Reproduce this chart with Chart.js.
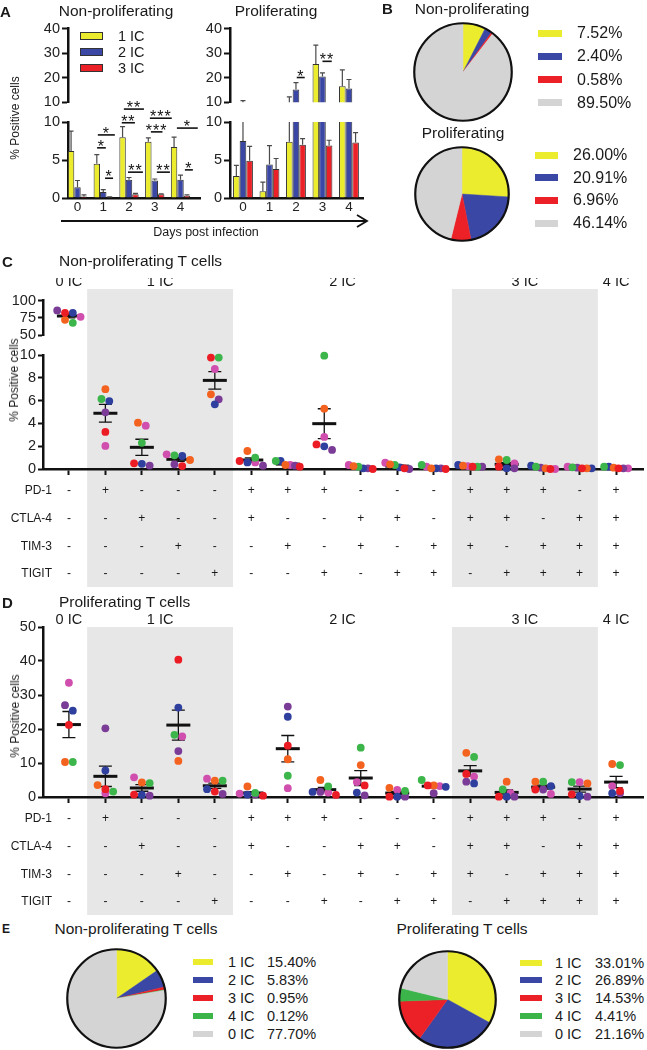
<!DOCTYPE html>
<html lang="en">
<head>
  <meta charset="UTF-8" />
  <title>Checkpoint co-expression on T cells</title>
  <script src="https://cdn.jsdelivr.net/npm/chart.js@4.4.1/dist/chart.umd.min.js"></script>
  <style>
    body { margin: 0; background: #fff; }
    #page { position: relative; width: 647px; height: 1050px; overflow: hidden;
            font-family: "Liberation Sans", Arial, sans-serif; color: #1a1a1a; }
    #page canvas, .txt, .sw, svg { position: absolute; }
    .txt { white-space: pre; line-height: 1; }
    .sw { box-sizing: border-box; }
  </style>
</head>
<body>
<div id="page"></div>

<script>
  // ---------- A: % positive cells by day ----------
  const days = [0, 1, 2, 3, 4];
  const dayLabels = ['0', '1', '2', '3', '4'];
  const icLabels = ['1 IC', '2 IC', '3 IC'];
  const nonProlif1 = [6.2, 4.5, 8.0, 7.4, 6.7];
  const nonProlif2 = [1.4, 0.8, 2.4, 2.3, 2.4];
  const nonProlif3 = [0.2, 0.1, 0.5, 0.5, 0.3];
  const nonProlif1Err = [2.6, 1.2, 1.4, 0.5, 1.3];
  const nonProlif2Err = [0.9, 0.3, 0.3, 0.2, 0.6];
  const nonProlif3Err = [0.2, 0.05, 0.1, 0.05, 0.1];
  const prolif1 = [2.9, 0.9, 7.4, 25.6, 16.5];
  const prolif2 = [7.5, 4.4, 15.2, 20.5, 15.6];
  const prolif3 = [4.9, 3.8, 7.0, 6.9, 7.3];
  const prolif1Err = [1.4, 1.2, 4.8, 7.7, 6.7];
  const prolif2Err = [3.2, 2.5, 2.8, 1.5, 3.7];
  const prolif3Err = [1.9, 1.4, 0.8, 0.7, 1.3];
  const lowTicksA = [0, 5, 10];
  const highTicksA = [10, 20, 30, 40];
  // significance bars: [from day, to day, height %, stars]
  const nonProlifSig = [
    [0.76, 1.10, 6.6, '*'], [0.79, 1.45, 8.3, '*'], [1.07, 1.38, 2.6, '*'],
    [1.72, 2.23, 9.9, '**'], [1.80, 2.58, 11.7, '**'], [1.96, 2.54, 3.4, '**'],
    [2.81, 3.66, 10.5, '***'], [2.85, 3.30, 8.7, '***'], [3.08, 3.59, 3.4, '**'],
    [3.86, 4.67, 9.2, '*'], [4.17, 4.48, 3.7, '*']
  ];
  const prolifSig = [[2.03, 2.33, 20.1, '*'], [3.0, 3.35, 26.7, '**']];

  // ---------- B / E: pie shares ----------
  const nonProlifShare = [7.52, 2.40, 0.58, 89.50];
  const prolifShare = [26.00, 20.91, 6.96, 46.14];
  const icNames = ['1 IC', '2 IC', '3 IC', '4 IC', '0 IC'];
  const nonProlifTShare = [15.40, 5.83, 0.95, 0.12, 77.70];
  const prolifTShare = [33.01, 26.89, 14.53, 4.41, 21.16];

  // ---------- C / D: co-expression per donor ----------
  const groupLabels = ['0 IC', '1 IC', '2 IC', '3 IC', '4 IC'];
  const groupStart = [0, 1, 5, 11, 15];
  const groupEnd = [0, 4, 10, 14, 15];
  const markerNames = ['PD-1', 'CTLA-4', 'TIM-3', 'TIGIT'];
  const markerSigns = ['-+---+++---+++-+', '--+--+--++-++-++', '---+--+-+-++-+++', '----+--+-++-++++'];
  const highTicksC = [50, 75, 100];
  const lowTicksC = [0, 2, 4, 6, 8, 10];
  const ticksD = [0, 10, 20, 30, 40, 50];

  const cRed     = [82.5, 3.25, 0.5, 0.26, 9.77, 0.7, 0.2, 2.16, 0.0, 0.06, 0.0, 0.2, 0.2, 0.0, 0.06, 0.06];
  const cOrange  = [72.4, 7.0, 4.06, 0.79, 6.55, 1.58, 0.35, 5.29, 0.26, 0.41, 0.06, 0.29, 0.85, 0.06, 0.06, 0.12];
  const cGreen   = [68.0, 6.14, 2.3, 1.2, 9.77, 0.99, 0.7, 9.94, 0.2, 0.35, 0.35, 0.2, 0.79, 0.2, 0.15, 0.2];
  const cBlue    = [82.5, 5.96, 0.45, 1.14, 5.67, 0.58, 0.7, 1.99, 0.06, 0.15, 0.06, 0.35, 0.06, 0.29, 0.06, 0.2];
  const cPurple  = [85.9, 4.97, 0.3, 0.41, 6.11, 0.29, 0.29, 1.67, 0.06, 0.0, 0.06, 0.2, 0.06, 0.12, 0.12, 0.06];
  const cMagenta = [76.7, 2.02, 3.8, 1.29, 8.77, 0.58, 0.35, 2.81, 0.35, 0.55, 0.2, 0.26, 0.5, 0.0, 0.2, 0.06];

  const dRed     = [21.2, 2.3, 0.7, 40.4, 1.6, 0.4, 15.1, 0.6, 3.4, 0.1, 3.4, 6.8, 0.1, 2.2, 0.8, 1.8];
  const dOrange  = [10.3, 3.5, 4.3, 10.6, 4.8, 3.1, 11.1, 5.0, 9.4, 2.7, 3.4, 13.0, 4.5, 4.5, 4.0, 9.7];
  const dGreen   = [10.3, 1.6, 4.1, 18.3, 4.8, 1.2, 6.25, 3.1, 14.5, 1.8, 5.0, 11.8, 2.2, 4.5, 4.4, 9.4];
  const dBlue    = [25.4, 7.8, 0.6, 26.3, 2.3, 0.7, 23.6, 1.5, 1.3, 0.1, 3.0, 4.0, 0.1, 3.2, 0.3, 1.1];
  const dPurple  = [27.0, 20.2, 0.4, 13.5, 0.9, 0.7, 26.6, 1.5, 0.5, 0.1, 1.1, 4.5, 0.1, 2.2, 0.1, 1.1];
  const dMagenta = [33.6, 1.1, 5.8, 17.8, 5.4, 1.0, 2.6, 1.3, 4.4, 2.1, 3.2, 6.0, 1.1, 0.9, 4.4, 3.2];

  // ---------- styling ----------
  const ink = '#111';
  const yellow = '#ebec2d', blue = '#3b47a5', red = '#ec2127', green = '#3bb54a', grey = '#d4d4d4';
  const barColors = [yellow, blue, red];
  const donorColors = ['#ec1c24', '#f4621f', '#3cb54a', '#2f3f9e', '#7b3c97', '#d04fae'];
  const family = '"Liberation Sans", Arial, sans-serif';
  Chart.defaults.font.family = family;
  Chart.defaults.color = '#222';

  const page = document.getElementById('page');

  function canvasAt(left, top, w, h) {
    const c = document.createElement('canvas');
    c.width = w; c.height = h;
    c.style.left = left + 'px'; c.style.top = top + 'px';
    c.style.width = w + 'px'; c.style.height = h + 'px';
    page.appendChild(c);
    return c;
  }

  function txt(str, x, y, size, o = {}) {
    const d = document.createElement('div');
    d.className = 'txt';
    d.textContent = str;
    d.style.left = x + 'px';
    d.style.top = y + 'px';
    d.style.fontSize = size + 'px';
    if (o.bold) d.style.fontWeight = 'bold';
    const dx = o.align === 'center' ? '-50%' : o.align === 'right' ? '-100%' : '0';
    d.style.transform = `translate(${dx}, -50%)` + (o.rotate ? ' rotate(-90deg)' : '');
    page.appendChild(d);
  }

  function swatch(x, y, w, h, color, outline) {
    const d = document.createElement('div');
    d.className = 'sw';
    d.style.left = x + 'px';
    d.style.top = (y - h / 2) + 'px';
    d.style.width = w + 'px';
    d.style.height = h + 'px';
    d.style.background = color;
    if (outline) d.style.border = '1px solid #333';
    page.appendChild(d);
  }

  // ---------- plugins ----------
  const errorBars = {
    id: 'errorBars',
    afterDatasetsDraw(chart) {
      const { ctx, chartArea: a, scales: { y } } = chart;
      ctx.save();
      ctx.beginPath();
      ctx.rect(a.left, a.top, a.right - a.left, a.bottom - a.top);
      ctx.clip();
      ctx.strokeStyle = '#4a4a4a';
      ctx.lineWidth = 1.2;
      chart.data.datasets.forEach((ds, di) => {
        chart.getDatasetMeta(di).data.forEach((bar, i) => {
          const v = ds.data[i].y;
          const y0 = y.getPixelForValue(v), y1 = y.getPixelForValue(v + ds.err[i]);
          ctx.beginPath();
          ctx.moveTo(bar.x, y0); ctx.lineTo(bar.x, y1);
          ctx.moveTo(bar.x - 2.5, y1); ctx.lineTo(bar.x + 2.5, y1);
          ctx.stroke();
        });
      });
      ctx.restore();
    }
  };

  const sigMarks = {
    id: 'sigMarks',
    afterDraw(chart, args, o) {
      const { ctx, scales: { x, y } } = chart;
      ctx.save();
      ctx.strokeStyle = ink; ctx.fillStyle = ink; ctx.lineWidth = 1.6;
      ctx.font = '16px ' + family;
      ctx.letterSpacing = '1px';
      ctx.textAlign = 'center'; ctx.textBaseline = 'alphabetic';
      (o.marks || []).forEach(([x0, x1, v, stars]) => {
        const py = y.getPixelForValue(v);
        const p0 = x.getPixelForValue(x0), p1 = x.getPixelForValue(x1);
        ctx.beginPath(); ctx.moveTo(p0, py); ctx.lineTo(p1, py); ctx.stroke();
        ctx.fillText(stars, (p0 + p1) / 2, py + 4);
      });
      ctx.restore();
    }
  };

  const pieRim = {
    id: 'pieRim',
    afterDatasetsDraw(chart) {
      const arc = chart.getDatasetMeta(0).data[0];
      const ctx = chart.ctx;
      ctx.save();
      ctx.beginPath();
      ctx.arc(arc.x, arc.y, arc.outerRadius, 0, Math.PI * 2);
      ctx.lineWidth = 2.2; ctx.strokeStyle = ink; ctx.stroke();
      ctx.restore();
    }
  };

  const meanSem = {
    id: 'meanSem',
    beforeDatasetsDraw(chart, args, o) {
      const { ctx, chartArea: a, scales: { x, y } } = chart;
      ctx.save();
      ctx.beginPath();
      ctx.rect(a.left, a.top - 3, a.right - a.left, a.bottom - a.top + 6);
      ctx.clip();
      ctx.strokeStyle = ink;
      o.means.forEach((m, i) => {
        const cx = x.getPixelForValue(i);
        const pm = y.getPixelForValue(m);
        const pHi = y.getPixelForValue(m + o.sems[i]), pLo = y.getPixelForValue(m - o.sems[i]);
        ctx.lineWidth = 1.3;
        ctx.beginPath();
        ctx.moveTo(cx, pLo); ctx.lineTo(cx, pHi);
        ctx.moveTo(cx - 6.5, pLo); ctx.lineTo(cx + 6.5, pLo);
        ctx.moveTo(cx - 6.5, pHi); ctx.lineTo(cx + 6.5, pHi);
        ctx.stroke();
        ctx.lineWidth = 3;
        ctx.beginPath(); ctx.moveTo(cx - 12, pm); ctx.lineTo(cx + 12, pm); ctx.stroke();
      });
      ctx.restore();
    }
  };

  // grey group bands, group headers and the +/- table under the dot plots
  const panelGrid = {
    id: 'panelGrid',
    beforeDraw(chart, args, o) {
      const { ctx, chartArea: a, scales: { x } } = chart;
      ctx.save();
      ctx.fillStyle = '#e7e7e7';
      groupStart.forEach((c0, g) => {
        if (g % 2 === 0) return;
        const l = x.getPixelForValue(c0 - 0.5), r = x.getPixelForValue(groupEnd[g] + 0.5);
        ctx.fillRect(l, a.top - o.shadeAbove, r - l, a.bottom - a.top + o.shadeAbove + 118);
      });
      ctx.restore();
    },
    afterDraw(chart, args, o) {
      const { ctx, chartArea: a, scales: { x } } = chart;
      ctx.save();
      ctx.fillStyle = '#1a1a1a';
      ctx.textBaseline = 'middle';
      ctx.textAlign = 'center';
      ctx.font = '14.5px ' + family;
      groupLabels.forEach((t, g) => {
        ctx.fillText(t, x.getPixelForValue((groupStart[g] + groupEnd[g]) / 2), a.top - o.labelAbove);
      });
      ctx.font = '12px ' + family;
      markerNames.forEach((name, r) => {
        const ry = a.bottom + 22 + r * 27.7;
        ctx.textAlign = 'right';
        ctx.fillText(name, 52, ry);
        ctx.textAlign = 'center';
        [...markerSigns[r]].forEach((s, c) => ctx.fillText(s, x.getPixelForValue(c), ry));
      });
      ctx.restore();
    }
  };

  const fixedTicks = list => s => { s.ticks = list.map(v => ({ value: v })); };
  const yAxisStyle = {
    border: { color: ink, width: 2.5 },
    grid: { drawOnChartArea: false, tickLength: 6, tickWidth: 2, tickColor: ink },
  };

  // ---------- A ----------
  function barChart(canvas, sets, errs, o) {
    return new Chart(canvas, {
      type: 'bar',
      data: {
        datasets: sets.map((vals, k) => ({
          label: icLabels[k],
          data: vals.map((v, i) => ({ x: days[i], y: v })),
          err: errs[k],
          backgroundColor: barColors[k],
          borderColor: '#333',
          borderWidth: 1,
          categoryPercentage: 0.75,
          barPercentage: 1
        }))
      },
      options: {
        responsive: false, animation: false, events: [],
        layout: { padding: o.pad },
        plugins: { legend: { display: false }, tooltip: { enabled: false }, sigMarks: { marks: o.marks || [] } },
        scales: {
          x: {
            type: 'linear', min: o.xMin, max: o.xMax, offset: false, display: o.showX,
            afterBuildTicks: fixedTicks(days),
            afterFit: s => { s.height = o.showX ? 24 : 0; },
            border: { color: ink, width: 2.5 },
            grid: { display: false, drawTicks: false },
            ticks: { callback: v => dayLabels[days.indexOf(v)], autoSkip: false, maxRotation: 0,
                     font: { size: 13.5 }, padding: 1 }
          },
          y: {
            ...yAxisStyle,
            min: o.yTicks[0], max: o.yTicks[o.yTicks.length - 1],
            afterBuildTicks: fixedTicks(o.yTicks),
            afterFit: s => { s.width = o.yWidth; },
            ticks: { font: { size: 14.5 }, padding: 2, autoSkip: false }
          }
        }
      },
      plugins: [errorBars, sigMarks]
    });
  }

  const npSets = [nonProlif1, nonProlif2, nonProlif3], npErr = [nonProlif1Err, nonProlif2Err, nonProlif3Err];
  const pSets = [prolif1, prolif2, prolif3], pErr = [prolif1Err, prolif2Err, prolif3Err];

  barChart(canvasAt(0, 18, 210, 95), npSets, npErr,
    { pad: { top: 10, bottom: 8, right: 10, left: 0 }, xMin: -0.369, xMax: 4.757, showX: false, yTicks: highTicksA, yWidth: 68 });
  barChart(canvasAt(0, 92, 210, 130), npSets, npErr,
    { pad: { top: 30, bottom: 0, right: 10, left: 0 }, xMin: -0.369, xMax: 4.757, showX: true, yTicks: lowTicksA, yWidth: 68, marks: nonProlifSig });
  barChart(canvasAt(190, 18, 183, 95), pSets, pErr,
    { pad: { top: 10, bottom: 8, right: 10, left: 0 }, xMin: -0.49, xMax: 4.53, showX: false, yTicks: highTicksA, yWidth: 40, marks: prolifSig });
  barChart(canvasAt(190, 92, 183, 130), pSets, pErr,
    { pad: { top: 30, bottom: 0, right: 10, left: 0 }, xMin: -0.49, xMax: 4.53, showX: true, yTicks: lowTicksA, yWidth: 40 });

  txt('A', 0, 11, 15, { bold: true });
  txt('Non-proliferating', 116, 11, 15.5, { align: 'center' });
  txt('Proliferating', 276, 11, 15.5, { align: 'center' });
  txt('% Positive cells', 15, 118, 12, { align: 'center', rotate: true });
  txt('Days post infection', 206, 232, 12.5, { align: 'center' });
  icLabels.forEach((t, k) => {
    swatch(80, 36 + k * 16, 23, 8, barColors[k], true);
    txt(t, 118, 36 + k * 16, 14.5);
  });
  page.insertAdjacentHTML('beforeend',
    '<svg style="left:0;top:212px" width="380" height="18">' +
    '<line x1="61" y1="9" x2="366" y2="9" stroke="#111" stroke-width="2"/>' +
    '<polyline points="357,3 367,9 357,15" fill="none" stroke="#111" stroke-width="1.8"/></svg>');

  // ---------- B and E pies ----------
  function pieChart(canvas, values, colors) {
    return new Chart(canvas, {
      type: 'pie',
      data: { labels: values.map(String), datasets: [{ data: values, backgroundColor: colors, borderColor: colors, borderWidth: 0.5 }] },
      options: {
        responsive: false, animation: false, events: [],
        layout: { padding: 6 },
        plugins: { legend: { display: false }, tooltip: { enabled: false } }
      },
      plugins: [pieRim]
    });
  }

  const bColors = [yellow, blue, red, grey];
  const eColors = [yellow, blue, red, green, grey];

  pieChart(canvasAt(408, 17, 110, 110), nonProlifShare, bColors);
  pieChart(canvasAt(409, 141, 106, 106), prolifShare, bColors);
  txt('B', 382, 8, 15, { bold: true });
  txt('Non-proliferating', 472, 9, 15.5, { align: 'center' });
  txt('Proliferating', 463, 133, 15.5, { align: 'center' });
  nonProlifShare.forEach((v, i) => {
    swatch(538, 33 + i * 23.3, 24, 7, bColors[i]);
    txt(v.toFixed(2) + '%', 577, 33 + i * 23.3, 16);
  });
  prolifShare.forEach((v, i) => {
    swatch(535, 155 + i * 22.7, 23, 7, bColors[i]);
    txt(v.toFixed(2) + '%', 573, 155 + i * 22.7, 16);
  });

  pieChart(canvasAt(61, 943, 111, 111), nonProlifTShare, eColors);
  pieChart(canvasAt(393, 945, 109, 109), prolifTShare, eColors);
  txt('E', 2, 929, 12, { bold: true });
  txt('Non-proliferating T cells', 136, 929, 15.5, { align: 'center' });
  txt('Proliferating T cells', 462, 929, 15.5, { align: 'center' });
  nonProlifTShare.forEach((v, i) => {
    const y = 961.5 + i * 18;
    swatch(193, y, 20, 6, eColors[i]);
    txt(icNames[i], 228, y, 14.5);
    txt(v.toFixed(2) + '%', 267, y, 14.5);
  });
  prolifTShare.forEach((v, i) => {
    const y = 962.5 + i * 17.8;
    swatch(520, y, 22, 6, eColors[i]);
    txt(icNames[i], 555, y, 14.5);
    txt(v.toFixed(2) + '%', 595, y, 14.5);
  });

  // ---------- C and D dot plots ----------
  function spreadDots(chart, donorVals) {
    const { x, y } = chart.scales;
    const unit = x.getPixelForValue(1) - x.getPixelForValue(0);
    donorVals[0].forEach((_, col) => {
      const pts = donorVals.map((v, k) => ({ k, py: y.getPixelForValue(v[col]) }))
        .sort((p, q) => p.py - q.py);
      let row = [];
      const place = () => {
        const step = Math.min(7.8, 24 / Math.max(1, row.length - 1));
        row.forEach((p, j) => {
          chart.data.datasets[p.k].data[col].x = col + (j - (row.length - 1) / 2) * step / unit;
        });
        row = [];
      };
      pts.forEach(p => { if (row.length && p.py - row[0].py > 7) place(); row.push(p); });
      place();
    });
    chart.update('none');
  }

  function dotChart(canvas, donorVals, o) {
    const cols = donorVals[0].map((_, i) => i);
    const n = donorVals.length;
    const means = cols.map(i => donorVals.reduce((s, v) => s + v[i], 0) / n);
    const sems = cols.map(i => Math.sqrt(donorVals.reduce((s, v) => s + (v[i] - means[i]) ** 2, 0) / (n - 1)) / Math.sqrt(n));
    const chart = new Chart(canvas, {
      type: 'scatter',
      data: {
        datasets: donorVals.map((vals, k) => ({
          data: vals.map((v, i) => ({ x: i, y: v })),
          backgroundColor: donorColors[k],
          pointRadius: 3.9, pointHoverRadius: 3.9, pointBorderWidth: 0,
          clip: 8
        }))
      },
      options: {
        responsive: false, animation: false, events: [],
        layout: { padding: o.pad },
        plugins: {
          legend: { display: false }, tooltip: { enabled: false },
          meanSem: { means, sems },
          panelGrid: o.grid || false
        },
        scales: {
          x: {
            type: 'linear', min: -0.71, max: 15.74, display: o.showX,
            afterBuildTicks: fixedTicks(cols),
            afterFit: s => { s.height = o.showX ? 8 : 0; },
            border: { color: ink, width: 2.5 },
            grid: { drawOnChartArea: false, tickLength: 6, tickWidth: 2, tickColor: ink },
            ticks: { display: false }
          },
          y: {
            ...yAxisStyle,
            grid: { drawOnChartArea: false, tickLength: 5, tickWidth: 2, tickColor: ink },
            min: o.yTicks[0], max: o.yTicks[o.yTicks.length - 1],
            afterBuildTicks: fixedTicks(o.yTicks),
            afterFit: s => { s.width = 43; },
            ticks: { font: { size: 14.5 }, padding: 2, autoSkip: false }
          }
        }
      },
      plugins: [panelGrid, meanSem]
    });
    spreadDots(chart, donorVals);
    return chart;
  }

  const cDonors = [cRed, cOrange, cGreen, cBlue, cPurple, cMagenta];
  const dDonors = [dRed, dOrange, dGreen, dBlue, dPurple, dMagenta];

  dotChart(canvasAt(0, 278, 647, 315), cDonors,
    { pad: { top: 77, right: 2, bottom: 116, left: 0 }, showX: true, yTicks: lowTicksC,
      grid: { shadeAbove: 66, labelAbove: 73 } });
  dotChart(canvasAt(0, 290, 647, 56), cDonors,
    { pad: { top: 10, right: 2, bottom: 8, left: 0 }, showX: false, yTicks: highTicksC });
  txt('C', 2, 261, 15, { bold: true });
  txt('Non-proliferating T cells', 59, 261, 15.5);
  txt('% Positive cells', 14, 380, 12, { align: 'center', rotate: true });

  dotChart(canvasAt(0, 608, 647, 312), dDonors,
    { pad: { top: 19, right: 2, bottom: 115, left: 0 }, showX: true, yTicks: ticksD,
      grid: { shadeAbove: 0, labelAbove: 7 } });
  txt('D', 2, 602, 15, { bold: true });
  txt('Proliferating T cells', 59, 602, 15.5);
  txt('% Positive cells', 15, 716, 12, { align: 'center', rotate: true });
</script>
</body>
</html>
